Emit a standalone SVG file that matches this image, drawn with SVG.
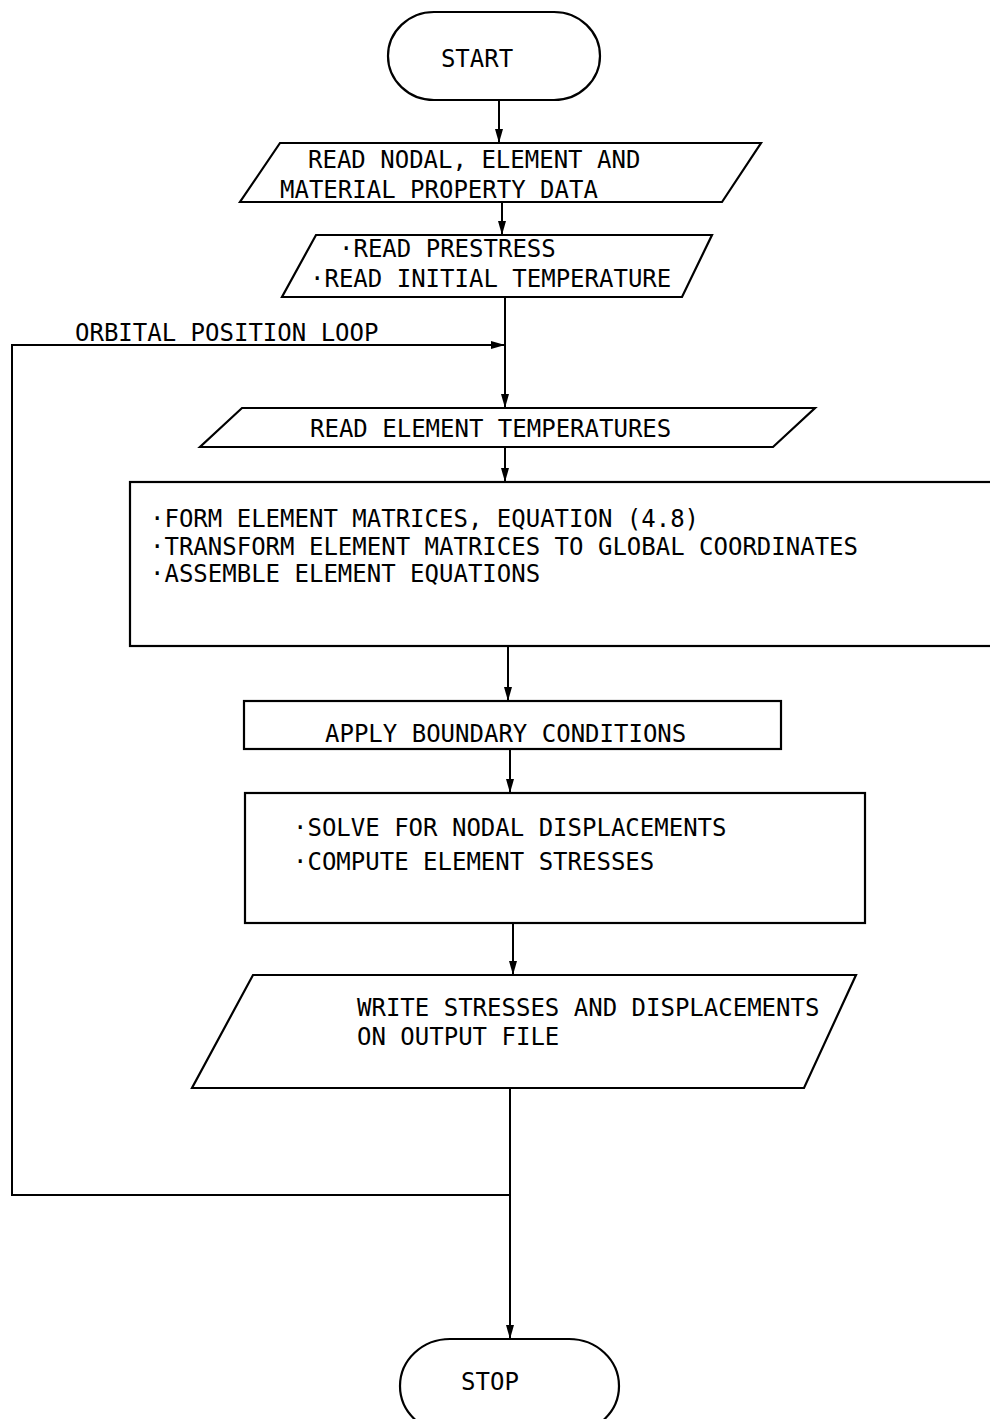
<svg xmlns="http://www.w3.org/2000/svg" width="990" height="1419" viewBox="0 0 990 1419">
<defs>
<style>
.s{fill:#fff;stroke:#000;stroke-width:2.2}
.t{font-family:"DejaVu Sans Mono","Liberation Mono",monospace;font-size:24px;fill:#000}
.c{fill:none;stroke:#000;stroke-width:2}
</style>
<marker id="a" viewBox="0 0 10 10" refX="10" refY="5" markerWidth="7" markerHeight="11" markerUnits="userSpaceOnUse" orient="auto-start-reverse" preserveAspectRatio="none">
<path d="M0,0 L10,5 L0,10 z" fill="#000"/>
</marker>
<marker id="h" viewBox="0 0 10 10" refX="10" refY="5" markerWidth="14" markerHeight="8" markerUnits="userSpaceOnUse" orient="auto" preserveAspectRatio="none">
<path d="M0,0 L10,5 L0,10 z" fill="#000"/>
</marker>
</defs>
<rect width="990" height="1419" fill="#fff"/>
<g id="connectors">
<line class="c" x1="499" y1="100" x2="499" y2="143" marker-end="url(#h)"/>
<line class="c" x1="502" y1="202" x2="502" y2="235" marker-end="url(#h)"/>
<line class="c" x1="505" y1="297" x2="505" y2="408" marker-end="url(#h)"/>
<line class="c" x1="505" y1="447" x2="505" y2="482" marker-end="url(#h)"/>
<line class="c" x1="508" y1="646" x2="508" y2="701" marker-end="url(#h)"/>
<line class="c" x1="510" y1="749" x2="510" y2="793" marker-end="url(#h)"/>
<line class="c" x1="513" y1="923" x2="513" y2="975" marker-end="url(#h)"/>
<line class="c" x1="510" y1="1088" x2="510" y2="1339" marker-end="url(#h)"/>
<polyline class="c" points="510,1195 12,1195 12,345 505,345" marker-end="url(#h)"/>
</g>
<g id="start">
<rect class="s" x="388" y="12" width="212" height="88" rx="46" ry="44"/>
<text class="t" x="477" y="67" text-anchor="middle">START</text>
</g>
<g id="read-data">
<polygon class="s" points="280,143 761,143 722,202 240,202"/>
<text class="t" x="308" y="168">READ NODAL, ELEMENT AND</text>
<text class="t" x="280" y="198">MATERIAL PROPERTY DATA</text>
</g>
<g id="read-prestress">
<polygon class="s" points="316,235 712,235 682,297 282,297"/>
<text class="t" x="339" y="257">·READ PRESTRESS</text>
<text class="t" x="310" y="287">·READ INITIAL TEMPERATURE</text>
</g>
<g id="loop-label">
<text class="t" x="75" y="341">ORBITAL POSITION LOOP</text>
</g>
<g id="read-temps">
<polygon class="s" points="242,408 815,408 773,447 200,447"/>
<text class="t" x="310" y="437">READ ELEMENT TEMPERATURES</text>
</g>
<g id="form-matrices">
<rect class="s" x="130" y="482" width="870" height="164"/>
<text class="t" x="150" y="527">·FORM ELEMENT MATRICES, EQUATION (4.8)</text>
<text class="t" x="150" y="555">·TRANSFORM ELEMENT MATRICES TO GLOBAL COORDINATES</text>
<text class="t" x="150" y="582">·ASSEMBLE ELEMENT EQUATIONS</text>
</g>
<g id="boundary">
<rect class="s" x="244" y="701" width="537" height="48"/>
<text class="t" x="325" y="742">APPLY BOUNDARY CONDITIONS</text>
</g>
<g id="solve">
<rect class="s" x="245" y="793" width="620" height="130"/>
<text class="t" x="293" y="836">·SOLVE FOR NODAL DISPLACEMENTS</text>
<text class="t" x="293" y="870">·COMPUTE ELEMENT STRESSES</text>
</g>
<g id="write">
<polygon class="s" points="253,975 856,975 804,1088 192,1088"/>
<text class="t" x="357" y="1016">WRITE STRESSES AND DISPLACEMENTS</text>
<text class="t" x="357" y="1045">ON OUTPUT FILE</text>
</g>
<g id="stop">
<rect class="s" x="400" y="1339" width="219" height="94" rx="50" ry="47"/>
<text class="t" x="490" y="1390" text-anchor="middle">STOP</text>
</g>
</svg>
